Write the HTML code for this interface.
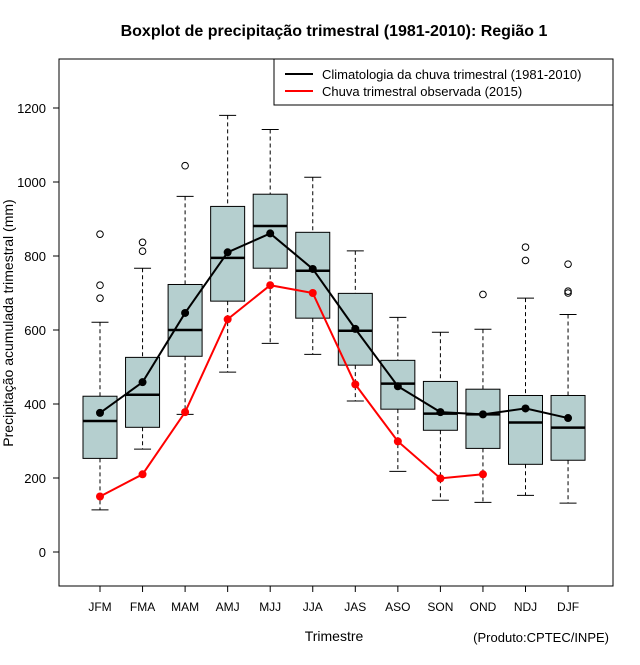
<!DOCTYPE html>
<html><head><meta charset="utf-8"><style>
body{margin:0;background:#fff}
svg text{font-family:"Liberation Sans",sans-serif}
</style></head><body>
<svg id="chart" width="640" height="660" xmlns="http://www.w3.org/2000/svg">
<text x="334" y="36" text-anchor="middle" font-size="16" font-weight="bold">Boxplot de precipitação trimestral (1981-2010): Região 1</text>
<rect x="59" y="59" width="554" height="527" fill="none" stroke="#000"/>
<text x="334" y="641" text-anchor="middle" font-size="14">Trimestre</text>
<text transform="translate(13,323) rotate(-90)" text-anchor="middle" font-size="14">Precipitação acumulada trimestral (mm)</text>
<text x="609" y="642" text-anchor="end" font-size="13">(Produto:CPTEC/INPE)</text>
<g>
<rect x="274" y="59" width="339" height="46" fill="#fff" stroke="#000"/>
<line x1="285" y1="74" x2="313" y2="74" stroke="#000" stroke-width="2"/>
<text x="322" y="79" font-size="13">Climatologia da chuva trimestral (1981-2010)</text>
<line x1="285" y1="91" x2="313" y2="91" stroke="red" stroke-width="2"/>
<text x="322" y="96" font-size="13">Chuva trimestral observada (2015)</text>
</g>
<g id="marks"></g>
</svg>
<script>
const cats=["JFM","FMA","MAM","AMJ","MJJ","JJA","JAS","ASO","SON","OND","NDJ","DJF"];
const lo=[114,278,372,486,564,534,408,218,140,134,153,132];
const q1=[253,337,529,678,767,632,505,386,329,280,237,248];
const med=[354,425,600,795,881,760,598,455,374,372,350,336];
const q3=[421,526,723,934,967,864,699,518,461,440,423,423];
const hi=[621,767,961,1180,1142,1013,814,634,594,602,686,642];
const outliers=[[859,721,686],[837,813],[1044],[],[],[],[],[],[],[696],[824,788],[778,705,700]];
const clim=[376,459,646,810,861,765,603,448,378,372,388,362];
const obs=[150,210,378,629,721,700,453,299,199,210];
const yTicks=[0,200,400,600,800,1000,1200];
const NS="http://www.w3.org/2000/svg";
const X=i=>100+i*42.55;
const Y=v=>552-v*0.37;
const svg=document.getElementById('chart');
const g=document.getElementById('marks');
function el(tag,attrs,parent){const e=document.createElementNS(NS,tag);for(const k in attrs)e.setAttribute(k,attrs[k]);(parent||g).appendChild(e);return e;}
yTicks.forEach(v=>{
 const t=el('line',{x1:53,x2:59,y1:Y(v),y2:Y(v),stroke:'#000'});
 
 
 const l=el('text',{x:46,y:Y(v)+5,'text-anchor':'end','font-size':13});
 
 
 l.textContent=v;
});
cats.forEach((c,i)=>{
 const x=X(i);
 const t=el('line',{x1:x,x2:x,y1:586,y2:592,stroke:'#000'});
 
 
 const l=el('text',{x:x,y:611,'text-anchor':'middle','font-size':12});
 
 
 l.textContent=c;
 const b=el('g',{});
 
 
 el('line',{x1:x,x2:x,y1:Y(hi[i]),y2:Y(q3[i]),stroke:'#000','stroke-dasharray':'4,3'},b);
 el('line',{x1:x,x2:x,y1:Y(q1[i]),y2:Y(lo[i]),stroke:'#000','stroke-dasharray':'4,3'},b);
 el('line',{x1:x-8.5,x2:x+8.5,y1:Y(hi[i]),y2:Y(hi[i]),stroke:'#000'},b);
 el('line',{x1:x-8.5,x2:x+8.5,y1:Y(lo[i]),y2:Y(lo[i]),stroke:'#000'},b);
 el('rect',{x:x-17,y:Y(q3[i]),width:34,height:Y(q1[i])-Y(q3[i]),fill:'#b5cfcf',stroke:'#000'},b);
 el('line',{x1:x-17,x2:x+17,y1:Y(med[i]),y2:Y(med[i]),stroke:'#000','stroke-width':2.5},b);
 outliers[i].forEach(o=>{el('circle',{cx:x,cy:Y(o),r:3.3,fill:'none',stroke:'#000'},b);});
});
function series(arr,col,name){
 const p=el('polyline',{points:arr.map((v,i)=>X(i)+','+Y(v)).join(' '),fill:'none',stroke:col,'stroke-width':2});
 
 
 arr.forEach((v,i)=>{
  const c=el('circle',{cx:X(i),cy:Y(v),r:4,fill:col});
  
  
 });
}
series(obs,'red','observed');
series(clim,'#000','climatology');
</script>
</body></html>
